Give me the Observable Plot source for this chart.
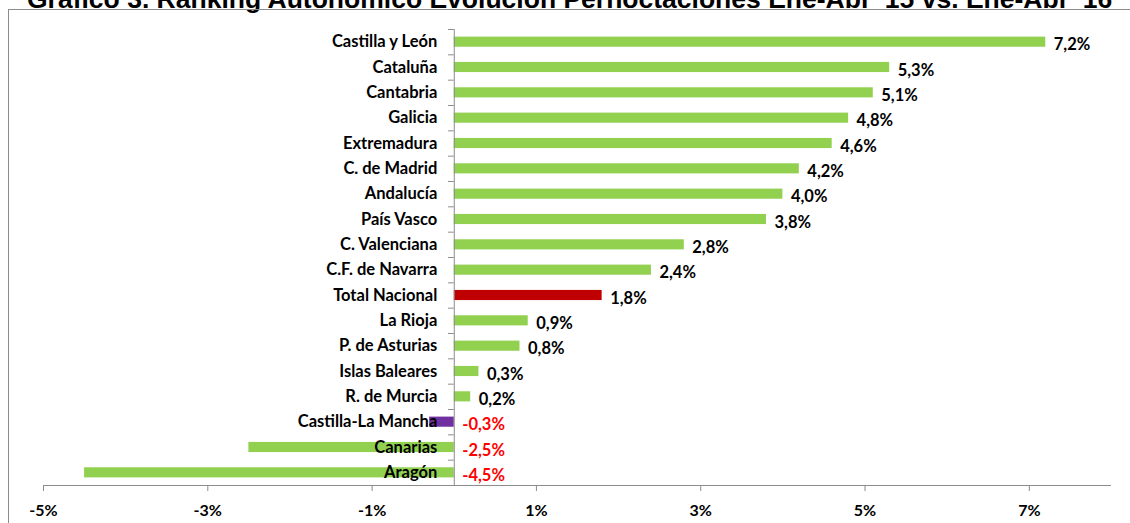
<!DOCTYPE html>
<html><head><meta charset="utf-8">
<script src="https://cdn.jsdelivr.net/npm/d3@7"></script>
<script src="https://cdn.jsdelivr.net/npm/@observablehq/plot@0.6"></script>
<style>
body{margin:0;width:1130px;height:523px;overflow:hidden;position:relative;background:#fff;}
#title{position:absolute;left:27px;top:-14px;font:bold 26.5px "Liberation Sans",Arial,sans-serif;line-height:26.5px;white-space:nowrap;color:#000;}
#border{position:absolute;left:8px;top:9px;width:1130px;height:530px;border:1px solid #8c8c8c;}
#chart{position:absolute;left:0;top:0;}
</style></head><body>
<div id="title">Gráfico 3. Ranking Autonómico Evolución Pernoctaciones Ene-Abr '15 vs. Ene-Abr '16</div>
<div id="border"></div>
<div id="chart"></div>
<script>
const regions = ["Castilla y León","Cataluña","Cantabria","Galicia","Extremadura","C. de Madrid","Andalucía","País Vasco","C. Valenciana","C.F. de Navarra","Total Nacional","La Rioja","P. de Asturias","Islas Baleares","R. de Murcia","Castilla-La Mancha","Canarias","Aragón"];
const values = [7.2,5.3,5.1,4.8,4.6,4.2,4.0,3.8,2.8,2.4,1.8,0.9,0.8,0.3,0.2,-0.3,-2.5,-4.5];
const xTicks = [-5,-3,-1,1,3,5,7];
const totalName = "Total Nacional";
const highlightName = "Castilla-La Mancha";

const data = regions.map((r,i)=>({region:r, value:values[i]}));
const barColor = d => d.region===totalName ? "#C00000" : d.region===highlightName ? "#7030A0" : "#92D050";
const fmt = v => v.toFixed(1).replace(".",",") + "%";

const W = 1130, H = 523, mT = 29, mB = 38;
const step = (H - mT - mB) / regions.length;

const chart = Plot.plot({
  width: W, height: H,
  marginLeft: 43, marginRight: 19, marginTop: mT, marginBottom: mB,
  style: {fontFamily: "Lato, 'Open Sans', sans-serif", background: "transparent"},
  x: {domain: [-5, 8], label: null},
  y: {domain: regions, paddingInner: 0.6, paddingOuter: 0.3, round: false, axis: null, label: null},
  marks: [
    Plot.barX(data, {x: "value", y: "region", fill: barColor}),
    Plot.ruleX([0], {stroke: "#8c8c8c"}),
    Plot.ruleY(data, {y: "region", x1: () => -0.07, x2: () => 0, dy: -step/2, stroke: "#8c8c8c"}),
    Plot.ruleY([regions[regions.length-1]], {y: d => d, x1: () => -5, x2: () => 8, dy: step/2, stroke: "#8c8c8c"}),
    Plot.axisX({ticks: xTicks, tickFormat: d => d + "%", tickSize: 6, tickPadding: 13, stroke: "#8c8c8c", fill: "#000", fontSize: 16, fontWeight: "bold", label: null}),
    Plot.text(data, {x: () => 0, y: "region", text: "region", textAnchor: "end", dx: -17, fontSize: 16.5, fontWeight: "bold", fill: "#000"}),
    Plot.text(data, {x: d => Math.max(d.value, 0), y: "region", text: d => fmt(d.value), textAnchor: "start", dx: 8, dy: 3, fontSize: 16.5, fontWeight: "bold", fill: d => d.value < 0 ? "#FF0000" : "#000"})
  ]
});
document.getElementById("chart").appendChild(chart);
</script>
</body></html>
